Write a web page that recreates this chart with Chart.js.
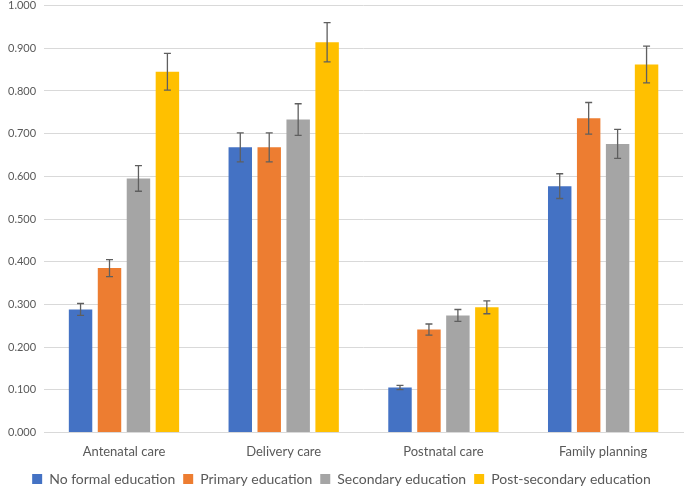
<!DOCTYPE html>
<html>
<head>
<meta charset="utf-8">
<script src="https://cdn.jsdelivr.net/npm/chart.js@4"></script>
<style>
  html, body { margin: 0; padding: 0; background: #fff; overflow: hidden; }
  #wrap { width: 685px; height: 505px; margin-top: -9px; }
</style>
</head>
<body>
<div id="wrap"><canvas id="chart1"></canvas></div>
<script>
const categories = ["Antenatal care", "Delivery care", "Postnatal care", "Family planning"]
const seriesNames = ["No formal education", "Primary education", "Secondary education", "Post-secondary education"]
const noFormal = [0.288, 0.668, 0.105, 0.577]
const primary = [0.385, 0.668, 0.241, 0.736]
const secondary = [0.595, 0.733, 0.274, 0.676]
const postSecondary = [0.845, 0.914, 0.293, 0.862]
// half-widths of the error bars
const noFormalErr = [0.014, 0.034, 0.005, 0.029]
const primaryErr = [0.020, 0.034, 0.013, 0.037]
const secondaryErr = [0.030, 0.037, 0.014, 0.034]
const postSecondaryErr = [0.043, 0.046, 0.015, 0.043]
const yTicks = [0, 0.1, 0.2, 0.3, 0.4, 0.5, 0.6, 0.7, 0.8, 0.9, 1.0]

const colors = ['#4472c4', '#ed7d31', '#a5a5a5', '#ffc000']
const values = [noFormal, primary, secondary, postSecondary]
const errors = [noFormalErr, primaryErr, secondaryErr, postSecondaryErr]

const errorBars = {
    id: 'errorBars',
    afterDatasetsDraw(chart) {
        const ctx = chart.ctx
        const y = chart.scales.y
        ctx.save()
        ctx.strokeStyle = '#5f5f5f'
        ctx.lineWidth = 1.3
        chart.data.datasets.forEach((ds, i) => {
            chart.getDatasetMeta(i).data.forEach((bar, j) => {
                const v = ds.data[j], e = errors[i][j]
                const top = y.getPixelForValue(v + e)
                const bot = y.getPixelForValue(v - e)
                ctx.beginPath()
                ctx.moveTo(bar.x, top); ctx.lineTo(bar.x, bot)
                ctx.moveTo(bar.x - 3.5, top); ctx.lineTo(bar.x + 3.5, top)
                ctx.moveTo(bar.x - 3.5, bot); ctx.lineTo(bar.x + 3.5, bot)
                ctx.stroke()
            })
        })
        ctx.restore()
    }
}

Chart.defaults.font.family = 'Lato, "Liberation Sans", sans-serif'
Chart.defaults.color = '#595959'

new Chart(document.getElementById('chart1'), {
    type: 'bar',
    data: {
        labels: categories,
        datasets: seriesNames.map((name, i) => ({
            label: name,
            data: values[i],
            backgroundColor: colors[i],
            borderWidth: 0,
            categoryPercentage: 0.725,
            barPercentage: 0.81
        }))
    },
    options: {
        responsive: true,
        maintainAspectRatio: false,
        animation: false,
        layout: { padding: { top: 0, right: 2, left: 0, bottom: 0 } },
        plugins: {
            tooltip: { enabled: false },
            legend: {
                position: 'bottom',
                labels: {
                    boxWidth: 10,
                    boxHeight: 10,
                    padding: 8,
                    font: { size: 14 },
                    color: '#595959'
                }
            }
        },
        scales: {
            x: {
                grid: { display: false },
                border: { color: '#d9d9d9' },
                ticks: { font: { size: 13 }, color: '#595959', padding: 4 }
            },
            y: {
                min: 0,
                max: 1,
                afterBuildTicks: axis => { axis.ticks = yTicks.map(v => ({ value: v })) },
                grid: { color: '#d9d9d9', drawTicks: false },
                border: { display: false },
                ticks: {
                    font: { size: 11 },
                    color: '#595959',
                    padding: 8,
                    callback: v => v.toFixed(3)
                }
            }
        }
    },
    plugins: [errorBars]
})
</script>
</body>
</html>
